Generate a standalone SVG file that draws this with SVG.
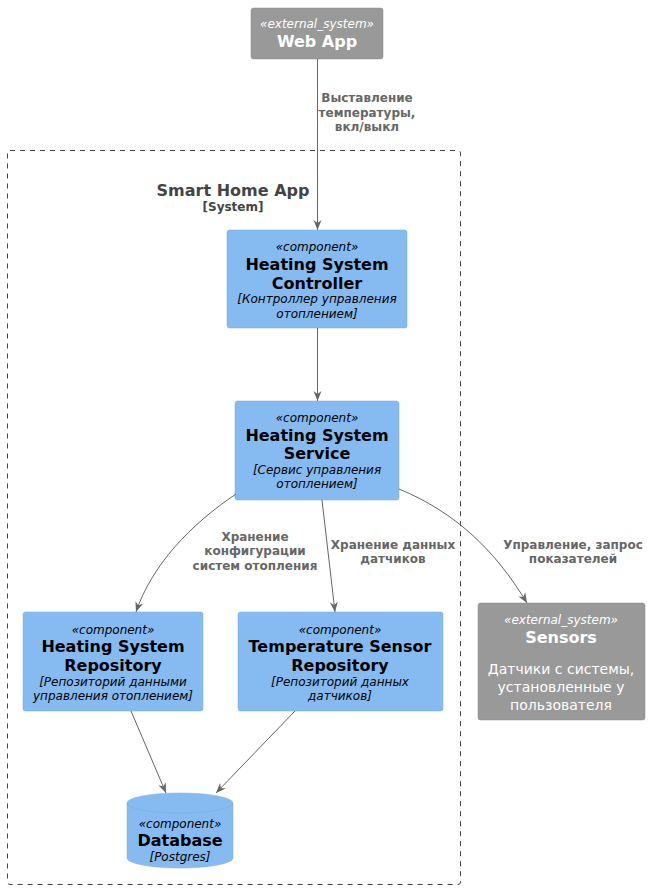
<svg xmlns="http://www.w3.org/2000/svg" width="650" height="890" viewBox="0 0 650 890">
<style>
text{font-family:"DejaVu Sans","Noto Sans",sans-serif;text-anchor:middle}
.st{font-size:12px;font-style:italic}
.nm{font-size:16px;font-weight:bold}
.ds{font-size:12px;font-style:italic}
.comp rect,.comp path{fill:#85BBF0;stroke:#78A8D8;stroke-width:0.5}
.comp text{fill:#000}
.ext rect{fill:#999999;stroke:#8A8A8A;stroke-width:0.5}
.ext text{fill:#FFF}
.lbl{font-size:12px;font-weight:bold;fill:#666666}
.edge{fill:none;stroke:#666666;stroke-width:1}
</style>
<defs>
<marker id="ah" viewBox="0 0 10 10" refX="10" refY="5" markerWidth="10" markerHeight="10" markerUnits="userSpaceOnUse" orient="auto">
<path d="M0,1 L10,5 L0,9 L3,5 Z" fill="#666666"/>
</marker>
</defs>
<g id="boundary">
<rect x="7.5" y="150.5" width="453" height="734" rx="2.5" fill="none" stroke="#444444" stroke-width="1" stroke-dasharray="5,5"/>
<text x="233" y="196" style="font-size:16px;font-weight:bold;fill:#444444">Smart Home App</text>
<text x="233" y="211" style="font-size:12px;font-weight:bold;fill:#444444">[System]</text>
</g>
<g id="webapp" class="ext">
<rect x="251" y="8" width="132" height="51" rx="2.5"/>
<text x="317" y="28" class="st">«external_system»</text>
<text x="317" y="47" class="nm">Web App</text>
</g>
<g id="controller" class="comp">
<rect x="227" y="230" width="180" height="98" rx="2.5"/>
<text x="317" y="251" class="st">«component»</text>
<text x="317" y="270" class="nm">Heating System</text>
<text x="317" y="289" class="nm">Controller</text>
<text x="317" y="303" class="ds">[Контроллер управления</text>
<text x="317" y="318" class="ds">отоплением]</text>
</g>
<g id="service" class="comp">
<rect x="235" y="401" width="164" height="99" rx="2.5"/>
<text x="317" y="422" class="st">«component»</text>
<text x="317" y="441" class="nm">Heating System</text>
<text x="317" y="459" class="nm">Service</text>
<text x="317" y="474" class="ds">[Сервис управления</text>
<text x="317" y="488" class="ds">отоплением]</text>
</g>
<g id="hsrepo" class="comp">
<rect x="23" y="612" width="180" height="99" rx="2.5"/>
<text x="113" y="634" class="st">«component»</text>
<text x="113" y="652" class="nm">Heating System</text>
<text x="113" y="671" class="nm">Repository</text>
<text x="113" y="686" class="ds">[Репозиторий данными</text>
<text x="113" y="700" class="ds">управления отоплением]</text>
</g>
<g id="tsrepo" class="comp">
<rect x="238" y="612" width="205" height="99" rx="2.5"/>
<text x="340" y="634" class="st">«component»</text>
<text x="340" y="652" class="nm">Temperature Sensor</text>
<text x="340" y="671" class="nm">Repository</text>
<text x="340" y="686" class="ds">[Репозиторий данных</text>
<text x="340" y="700" class="ds">датчиков]</text>
</g>
<g id="sensors" class="ext">
<rect x="478" y="603" width="167" height="117" rx="2.5"/>
<text x="561" y="624" class="st">«external_system»</text>
<text x="561" y="643" class="nm">Sensors</text>
<text x="561" y="674" style="font-size:14px">Датчики с системы,</text>
<text x="561" y="692" style="font-size:14px">установленные у</text>
<text x="561" y="710" style="font-size:14px">пользователя</text>
</g>
<g id="database" class="comp">
<path d="M127,803 A53,10 0 0 1 233,803 L233,858 A53,10 0 0 1 127,858 Z"/>
<path d="M127,803 A53,10 0 0 0 233,803" style="fill:none"/>
<text x="180" y="828" class="st">«component»</text>
<text x="180" y="846" class="nm">Database</text>
<text x="180" y="861" class="ds">[Postgres]</text>
</g>
<g id="connectors">
<path class="edge" d="M317.5,59 L317.5,230" marker-end="url(#ah)"/>
<text class="lbl" x="367" y="102">Выставление</text>
<text class="lbl" x="367" y="117">температуры,</text>
<text class="lbl" x="367" y="131">вкл/выкл</text>
<path class="edge" d="M317.5,328 L317.5,401" marker-end="url(#ah)"/>
<path class="edge" d="M236,494 C190,525 152,565 136,612" marker-end="url(#ah)"/>
<text class="lbl" x="255" y="541">Хранение</text>
<text class="lbl" x="255" y="555">конфигурации</text>
<text class="lbl" x="255" y="570">систем отопления</text>
<path class="edge" d="M322,500 L335,612" marker-end="url(#ah)"/>
<text class="lbl" x="393" y="549">Хранение данных</text>
<text class="lbl" x="393" y="563">датчиков</text>
<path class="edge" d="M399,489 C455,512 495,550 527,603" marker-end="url(#ah)"/>
<text class="lbl" x="573" y="549">Управление, запрос</text>
<text class="lbl" x="573" y="563">показателей</text>
<path class="edge" d="M131,711 L166,793" marker-end="url(#ah)"/>
<path class="edge" d="M295,711 L216,793" marker-end="url(#ah)"/>
</g>
</svg>
